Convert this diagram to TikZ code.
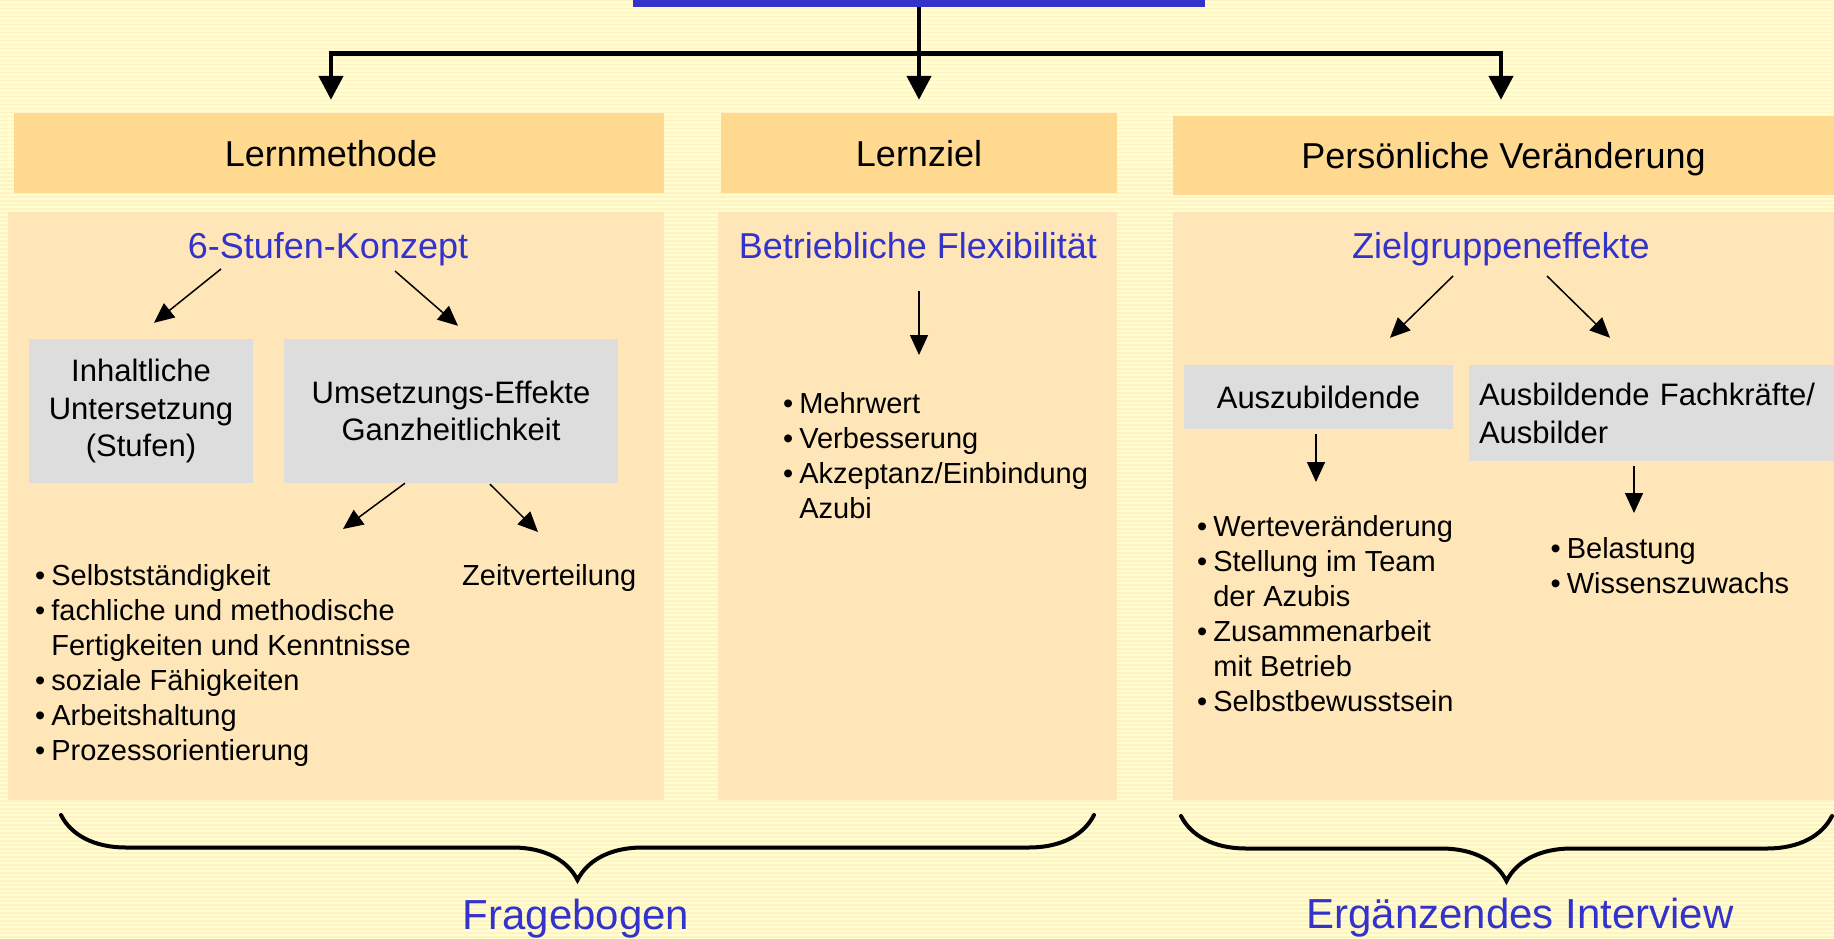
\documentclass[tikz,border=0pt]{standalone}
\usepackage{fontspec}
\setmainfont{Liberation Sans}
\usetikzlibrary{arrows.meta,positioning,decorations.pathreplacing}

\definecolor{hgelb}{HTML}{FFFFCC}
\definecolor{streifen}{HTML}{FFF2C8}
\definecolor{kopffarbe}{HTML}{FFD98F}
\definecolor{feldfarbe}{HTML}{FFE6B8}
\definecolor{graufeld}{HTML}{DDDDDD}
\definecolor{titelblau}{HTML}{3333CC}

\tikzset{
kopf/.style={
  fill=kopffarbe,
  minimum height=80pt,
  inner sep=0pt,
  text height=26pt,
  text depth=0pt,
  font=\fontsize{36}{43}\selectfont
  },
feld/.style={fill=feldfarbe, minimum height=588pt, inner sep=0pt},
grau/.style={fill=graufeld, inner sep=0pt, align=center,
  font=\fontsize{31}{37}\selectfont},
blau/.style={text=titelblau, inner sep=0pt, anchor=base,
  font=\fontsize{36}{43}\selectfont},
fuss/.style={text=titelblau, inner sep=0pt, anchor=base,
  font=\fontsize{42}{50}\selectfont},
liste/.style={inner sep=0pt, anchor=base west,
  font=\fontsize{29}{35}\selectfont},
pfeil/.style={line width=1.5pt, -{Triangle[length=20pt,width=18pt]}},
hauptpfeil/.style={line width=4.5pt, -{Triangle[length=24pt,width=24pt]}},
klammer/.style={line width=4pt, line cap=round, decorate,
  decoration={brace, mirror, amplitude=65pt}}
}

\begin{document}
\begin{tikzpicture}[x=1pt,y=-1pt,>=latex]
\useasboundingbox (0,0) rectangle (1834,939);
\fill[hgelb] (0,0) rectangle (1834,939);
\foreach \s in {0,4,...,936}
  \fill[streifen] (0,\s) rectangle (1834,\s+1.5);

\node[fill=titelblau, minimum width=572pt, minimum height=7pt, inner sep=0pt]
  (titel) at (919,3.5) {};

% Spalten
\node[feld, minimum width=656pt] (feld1) at (336,506) {};
\node[feld, minimum width=399pt] (feld2) at (917.5,506) {};
\node[feld, minimum width=661pt] (feld3) at (1503.5,506) {};

\node[kopf, minimum width=650pt] (kopf1) at (339,153) {\hspace*{-16pt}Lernmethode};
\node[kopf, minimum width=396pt] (kopf2) at (919,153) {Lernziel};
\node[kopf, minimum width=661pt, minimum height=79pt] (kopf3) at (1503.5,155.5)
  {Persönliche Veränderung};

\draw[hauptpfeil] (titel.south) -- ([yshift=-46.5pt]titel.south)
  -| ([xshift=-8pt,yshift=13pt]kopf1.north);
\draw[hauptpfeil] (titel.south) -- ([yshift=13pt]kopf2.north);
\draw[hauptpfeil] (titel.south) -- ([yshift=-46.5pt]titel.south)
  -| ([xshift=-2.5pt,yshift=16pt]kopf3.north);

% Lernmethode
\node[blau] (stufen) at (328,258) {6-Stufen-Konzept};
\node[grau, minimum width=224pt, minimum height=144pt, font=\fontsize{31}{37.5}\selectfont]
  (inhalt) at (141,411) {Inhaltliche\\Untersetzung\\(Stufen)};
\node[grau, minimum width=334pt, minimum height=144pt]
  (umsetz) at (451,411) {Umsetzungs-Effekte\\Ganzheitlichkeit};
\node[liste] (liste1) at (35,585) {%
  \begin{tabular}[t]{@{}l@{\hspace{6pt}}l@{}}
  \textbullet & Selbstständigkeit\\
  \textbullet & fachliche und methodische\\
   & Fertigkeiten und Kenntnisse\\
  \textbullet & soziale Fähigkeiten\\
  \textbullet & Arbeitshaltung\\
  \textbullet & Prozessorientierung
  \end{tabular}};
\node[liste] (zeit) at (462,585) {Zeitverteilung};

\draw[pfeil] ([xshift=-107pt,yshift=-11pt]stufen.base) -- ([xshift=13pt,yshift=16pt]inhalt.north);
\draw[pfeil] ([xshift=67pt,yshift=-13pt]stufen.base) -- ([xshift=7pt,yshift=13pt]umsetz.north);
\draw[pfeil] ([xshift=-46pt]umsetz.south) -- ([xshift=308pt,yshift=56pt]liste1.base west);
\draw[pfeil] ([xshift=39pt,yshift=-1pt]umsetz.south) -- ([xshift=76pt,yshift=53pt]zeit.base west);

% Lernziel
\node[blau] (flex) at (918,258) {Betriebliche Flexibilität};
\node[liste] (liste2) at (783,413) {%
  \begin{tabular}[t]{@{}l@{\hspace{6pt}}l@{}}
  \textbullet & Mehrwert\\
  \textbullet & Verbesserung\\
  \textbullet & Akzeptanz/Einbindung\\
   & Azubi
  \end{tabular}};

\draw[pfeil] ([xshift=1pt,yshift=-33pt]flex.base) -- ([xshift=136pt,yshift=58pt]liste2.base west);

% Persoenliche Veraenderung
\node[blau] (ziel) at (1501,258) {Zielgruppeneffekte};
\node[grau, minimum width=269pt, minimum height=64pt]
  (azubi) at (1318.5,397) {Auszubildende};
\node[grau, minimum width=365pt, minimum height=96pt, text width=345pt,
  inner xsep=10pt, align=left, font=\fontsize{31}{38}\selectfont]
  (ausb) at (1651.5,413) {Ausbildende Fachkräfte/\\Ausbilder};
\node[liste] (liste3) at (1197,536) {%
  \begin{tabular}[t]{@{}l@{\hspace{6pt}}l@{}}
  \textbullet & Werteveränderung\\
  \textbullet & Stellung im Team\\
   & der Azubis\\
  \textbullet & Zusammenarbeit\\
   & mit Betrieb\\
  \textbullet & Selbstbewusstsein
  \end{tabular}};
\node[liste] (liste4) at (1550.5,558) {%
  \begin{tabular}[t]{@{}l@{\hspace{6pt}}l@{}}
  \textbullet & Belastung\\
  \textbullet & Wissenszuwachs
  \end{tabular}};

\draw[pfeil] ([xshift=-48pt,yshift=-18pt]ziel.base) -- ([xshift=71.5pt,yshift=27pt]azubi.north);
\draw[pfeil] ([xshift=46pt,yshift=-18pt]ziel.base) -- ([xshift=-41.5pt,yshift=27pt]ausb.north);
\draw[pfeil] ([xshift=-2.5pt,yshift=-5pt]azubi.south) -- ([xshift=119pt,yshift=54pt]liste3.base west);
\draw[pfeil] ([xshift=-17.5pt,yshift=-5pt]ausb.south) -- ([xshift=83.5pt,yshift=45pt]liste4.base west);

% Klammern
\draw[klammer] (61,815) -- (1094,815);
\draw[klammer] (1181,816) -- (1832,816);
\node[fuss] (frage) at (576,929) {Fragebogen};
\node[fuss] (interview) at (1520,928) {Ergänzendes Interview};
\end{tikzpicture}
\end{document}
